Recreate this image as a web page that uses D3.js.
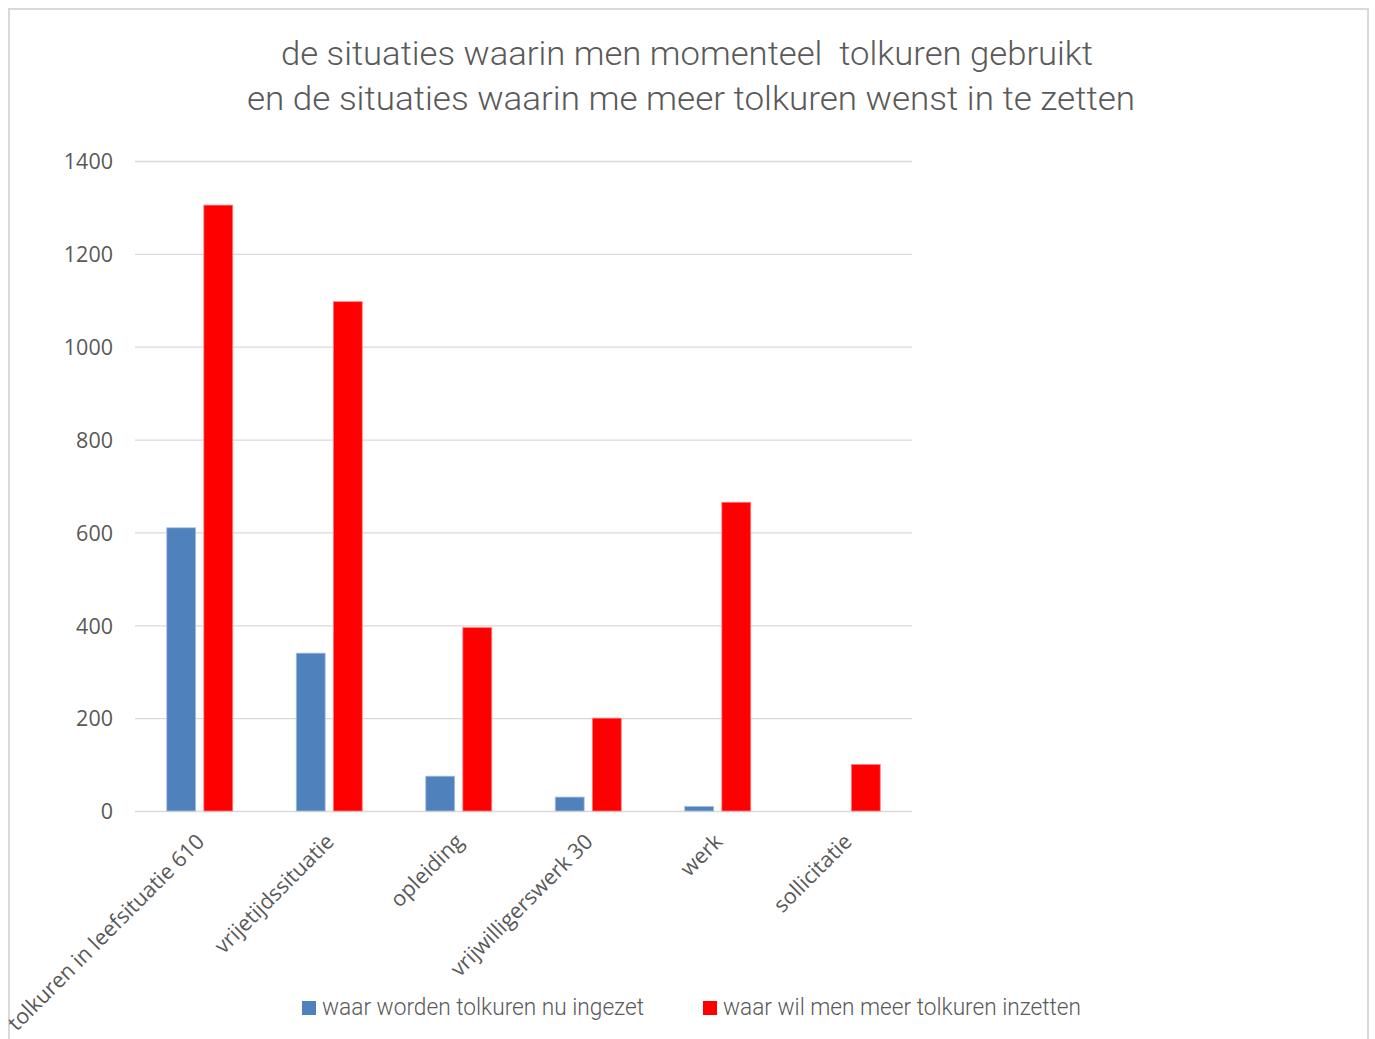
<!DOCTYPE html>
<html><head><meta charset="utf-8">
<script src="https://cdn.jsdelivr.net/npm/d3@7/dist/d3.min.js"></script>
<style>body{margin:0;background:#fff}svg{display:block}</style>
</head><body>
<script>
const categories = ["tolkuren in leefsituatie 610","vrijetijdssituatie","opleiding","vrijwilligerswerk 30","werk","sollicitatie"];
const seriesNames = ["waar worden tolkuren nu ingezet","waar wil men meer tolkuren inzetten"];
const nuIngezet = [610, 340, 75, 30, 10, 0];
const meerInzetten = [1305, 1097, 395, 200, 665, 100];
const yTicks = [0,200,400,600,800,1000,1200,1400];
const titleLines = ["de situaties waarin men momenteel  tolkuren gebruikt","en de situaties waarin me meer tolkuren wenst in te zetten"];

const W=1375,H=1039;
const svg=d3.select("body").append("svg").attr("width",W).attr("height",H);
svg.append("rect").attr("x",9).attr("y",9).attr("width",1359).attr("height",1040)
  .attr("fill","#fff").attr("stroke","#d9d9d9").attr("stroke-width",2);

const plot={l:135,r:912,t:161,b:811};
const x=d3.scaleBand().domain(categories).range([plot.l,plot.r]);
const y=d3.scaleLinear().domain([0,1400]).range([plot.b,plot.t]);
const sub=d3.scaleBand().domain([0,1]).range([-33,33]).paddingInner(0.22);

// gridlines
const yAxis=d3.axisLeft(y).tickValues(yTicks).tickSize(-(plot.r-plot.l)).tickPadding(22).tickFormat(d3.format("d"));
const ga=svg.append("g").attr("transform",`translate(${plot.l},0)`).call(yAxis);
ga.select(".domain").remove();
ga.selectAll(".tick line").attr("stroke","#d9d9d9").attr("stroke-width",1.3);
ga.selectAll(".tick text").attr("fill","#595959").attr("font-family","Open Sans").attr("font-size",21.5).attr("dy","0.36em");

// bars
const series=[nuIngezet,meerInzetten];
const colors=["#4f81bd","#ff0000"];
const strokes=["#a7c0de","#ff8080"];
series.forEach((vals,si)=>{
  svg.append("g").selectAll("rect").data(vals.map((v,i)=>({v,c:categories[i]}))).join("rect")
    .filter(d=>d.v>0)
    .attr("x",d=>x(d.c)+x.bandwidth()/2+sub(si))
    .attr("width",sub.bandwidth())
    .attr("y",d=>y(d.v))
    .attr("height",d=>y(0)-y(d.v))
    .attr("fill",colors[si]).attr("stroke",strokes[si]).attr("stroke-width",0.8);
});

// x labels
svg.append("g").selectAll("text").data(categories).join("text")
  .attr("transform",d=>`translate(${x(d)+x.bandwidth()/2+6},${843}) rotate(-45)`)
  .attr("text-anchor","end")
  .attr("fill","#595959").attr("font-family","Open Sans").attr("font-size",21.5)
  .text(d=>d);

// title
svg.append("g").selectAll("text").data(titleLines).join("text")
  .attr("x",(d,i)=>i===0?687:691).attr("y",(d,i)=>65+i*45)
  .attr("text-anchor","middle").attr("fill","#595959")
  .style("white-space","pre")
  .attr("font-family","Roboto").attr("font-weight",300).attr("font-size",34)
  .attr("textLength",(d,i)=>i===0?812:888).attr("lengthAdjust","spacingAndGlyphs")
  .text(d=>d);

// legend
const legX=[302,703], legLen=[322,358];
seriesNames.forEach((n,i)=>{
  svg.append("rect").attr("x",legX[i]).attr("y",1001).attr("width",14).attr("height",14).attr("fill",colors[i]);
  svg.append("text").attr("x",legX[i]+20).attr("y",1015).attr("fill","#595959")
    .attr("font-family","Roboto").attr("font-weight",300).attr("font-size",23)
    .attr("textLength",legLen[i]).attr("lengthAdjust","spacingAndGlyphs").text(n);
});
</script>
</body></html>
